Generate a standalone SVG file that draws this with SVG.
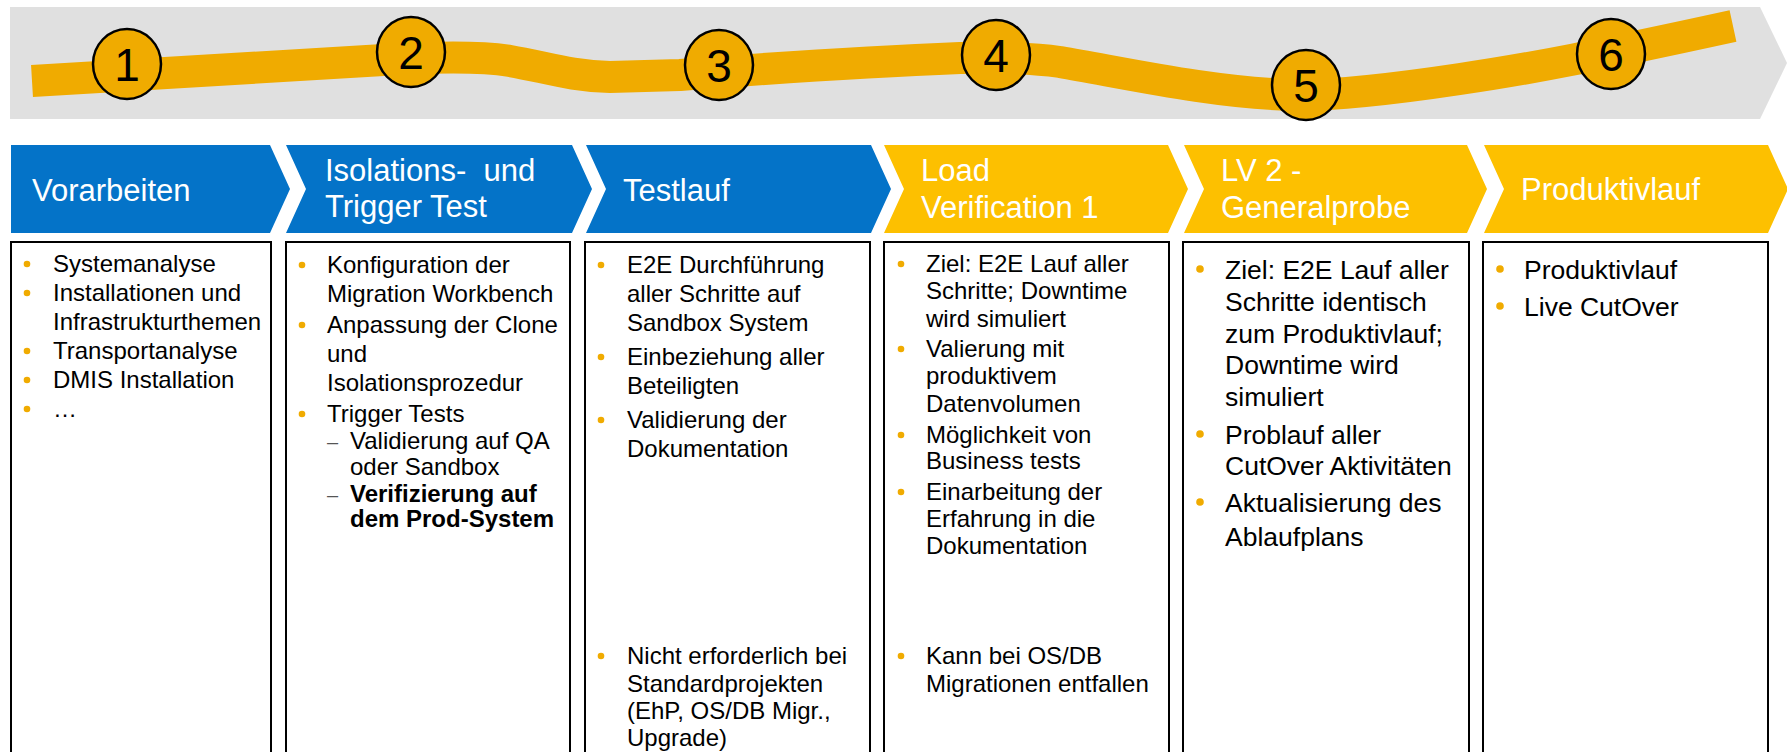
<svg xmlns="http://www.w3.org/2000/svg" width="1787" height="752" viewBox="0 0 1787 752">
<style>
text{font-family:"Liberation Sans",Arial,Helvetica,sans-serif}
.band{fill:#E0E0E0}
.road{fill:none;stroke:#F0AB00;stroke-width:32;stroke-linecap:butt;stroke-linejoin:round}
.ms ellipse{fill:#F0AB00;stroke:#000;stroke-width:2.5}
.ms text{font-size:46px;text-anchor:middle;fill:#000}
.blue{fill:#0473C8}
.yel{fill:#FDC000}
.ph text{fill:#fff;font-size:31px}
.box rect{fill:#fff;stroke:#000;stroke-width:2}
.t{font-size:24px;fill:#000}
.t2{font-size:26.5px;fill:#000}
.bl{fill:#F0AB00}
.dash{font-size:20px;fill:#555}
.bold{font-weight:bold}
</style>
<g id="timeline">
<polygon class="band" points="10,7 1760,7 1787,63 1760,119 10,119"/>
</g>
<g id="connectors">
<path class="road" d="M32,81 L400,59 C440,57 480,56 510,61 C545,67 570,76 610,77 L680,75 C760,69 860,62 960,58 C1000,57 1030,58 1060,62 C1130,74 1210,92 1290,95 C1330,96 1400,88 1460,79 C1530,69 1600,55 1733,26"/>
</g>
<g id="milestone-1" class="ms"><ellipse cx="127" cy="64" rx="34" ry="35"/><text x="127" y="81">1</text></g>
<g id="milestone-2" class="ms"><ellipse cx="411" cy="52" rx="34" ry="35"/><text x="411" y="69">2</text></g>
<g id="milestone-3" class="ms"><ellipse cx="719" cy="65" rx="34" ry="35"/><text x="719" y="82">3</text></g>
<g id="milestone-4" class="ms"><ellipse cx="996" cy="55" rx="34" ry="35"/><text x="996" y="72">4</text></g>
<g id="milestone-5" class="ms"><ellipse cx="1306" cy="85" rx="34" ry="35"/><text x="1306" y="102">5</text></g>
<g id="milestone-6" class="ms"><ellipse cx="1611" cy="54" rx="34" ry="35"/><text x="1611" y="71">6</text></g>

<g id="phase-1" class="ph"><polygon class="blue" points="11,145 270,145 290,189 270,233 11,233"/><text x="32" y="201">Vorarbeiten</text></g>
<g id="phase-2" class="ph"><polygon class="blue" points="286,145 572,145 592,189 572,233 286,233 306,189"/><text x="325" y="181" xml:space="preserve">Isolations-  und</text><text x="325" y="217">Trigger Test</text></g>
<g id="phase-3" class="ph"><polygon class="blue" points="586,145 871,145 891,189 871,233 586,233 606,189"/><text x="623" y="201">Testlauf</text></g>
<g id="phase-4" class="ph"><polygon class="yel" points="884,145 1168,145 1188,189 1168,233 884,233 904,189"/><text x="921" y="181">Load</text><text x="921" y="218">Verification 1</text></g>
<g id="phase-5" class="ph"><polygon class="yel" points="1184,145 1467,145 1487,189 1467,233 1184,233 1204,189"/><text x="1221" y="181">LV 2 -</text><text x="1221" y="218">Generalprobe</text></g>
<g id="phase-6" class="ph"><polygon class="yel" points="1484,145 1768,145 1788,189 1768,233 1484,233 1504,189"/><text x="1521" y="200">Produktivlauf</text></g>

<g id="box-1" class="box">
<rect x="11" y="242" width="260" height="520"/>
<circle class="bl" cx="27" cy="264" r="3.3"/>
<circle class="bl" cx="27" cy="293" r="3.3"/>
<circle class="bl" cx="27" cy="351" r="3.3"/>
<circle class="bl" cx="27" cy="380" r="3.3"/>
<circle class="bl" cx="27" cy="409" r="3.3"/>
<text class="t" x="53" y="272">Systemanalyse</text>
<text class="t" x="53" y="301">Installationen und</text>
<text class="t" x="53" y="330">Infrastrukturthemen</text>
<text class="t" x="53" y="359">Transportanalyse</text>
<text class="t" x="53" y="388">DMIS Installation</text>
<text class="t" x="53" y="417">…</text>
</g>

<g id="box-2" class="box">
<rect x="286" y="242" width="284" height="520"/>
<circle class="bl" cx="302" cy="265" r="3.3"/>
<circle class="bl" cx="302" cy="325" r="3.3"/>
<circle class="bl" cx="302" cy="414" r="3.3"/>
<text class="t" x="327" y="273">Konfiguration der</text>
<text class="t" x="327" y="302">Migration Workbench</text>
<text class="t" x="327" y="333">Anpassung der Clone</text>
<text class="t" x="327" y="362">und</text>
<text class="t" x="327" y="391">Isolationsprozedur</text>
<text class="t" x="327" y="422">Trigger Tests</text>
<text class="dash" x="327" y="449">–</text>
<text class="t" x="350" y="449">Validierung auf QA</text>
<text class="t" x="350" y="475">oder Sandbox</text>
<text class="dash" x="327" y="502">–</text>
<text class="t bold" x="350" y="502">Verifizierung auf</text>
<text class="t bold" x="350" y="527">dem Prod-System</text>
</g>

<g id="box-3" class="box">
<rect x="585" y="242" width="285" height="520"/>
<circle class="bl" cx="601" cy="265" r="3.3"/>
<circle class="bl" cx="601" cy="357" r="3.3"/>
<circle class="bl" cx="601" cy="420" r="3.3"/>
<circle class="bl" cx="601" cy="656" r="3.3"/>
<text class="t" x="627" y="273">E2E Durchführung</text>
<text class="t" x="627" y="302">aller Schritte auf</text>
<text class="t" x="627" y="331">Sandbox System</text>
<text class="t" x="627" y="365">Einbeziehung aller</text>
<text class="t" x="627" y="394">Beteiligten</text>
<text class="t" x="627" y="428">Validierung der</text>
<text class="t" x="627" y="457">Dokumentation</text>
<text class="t" x="627" y="664">Nicht erforderlich bei</text>
<text class="t" x="627" y="692">Standardprojekten</text>
<text class="t" x="627" y="719">(EhP, OS/DB Migr.,</text>
<text class="t" x="627" y="746">Upgrade)</text>
</g>

<g id="box-4" class="box">
<rect x="884" y="242" width="285" height="520"/>
<circle class="bl" cx="901" cy="264" r="3.3"/>
<circle class="bl" cx="901" cy="349" r="3.3"/>
<circle class="bl" cx="901" cy="435" r="3.3"/>
<circle class="bl" cx="901" cy="492" r="3.3"/>
<circle class="bl" cx="901" cy="656" r="3.3"/>
<text class="t" x="926" y="272">Ziel: E2E Lauf aller</text>
<text class="t" x="926" y="299">Schritte; Downtime</text>
<text class="t" x="926" y="327">wird simuliert</text>
<text class="t" x="926" y="357">Valierung mit</text>
<text class="t" x="926" y="384">produktivem</text>
<text class="t" x="926" y="412">Datenvolumen</text>
<text class="t" x="926" y="443">Möglichkeit von</text>
<text class="t" x="926" y="469">Business tests</text>
<text class="t" x="926" y="500">Einarbeitung der</text>
<text class="t" x="926" y="527">Erfahrung in die</text>
<text class="t" x="926" y="554">Dokumentation</text>
<text class="t" x="926" y="664">Kann bei OS/DB</text>
<text class="t" x="926" y="692">Migrationen entfallen</text>
</g>

<g id="box-5" class="box">
<rect x="1183" y="242" width="286" height="520"/>
<circle class="bl" cx="1200" cy="269" r="3.8"/>
<circle class="bl" cx="1200" cy="434" r="3.8"/>
<circle class="bl" cx="1200" cy="502" r="3.8"/>
<text class="t2" x="1225" y="279">Ziel: E2E Lauf aller</text>
<text class="t2" x="1225" y="311">Schritte identisch</text>
<text class="t2" x="1225" y="343">zum Produktivlauf;</text>
<text class="t2" x="1225" y="374">Downtime wird</text>
<text class="t2" x="1225" y="406">simuliert</text>
<text class="t2" x="1225" y="444">Problauf aller</text>
<text class="t2" x="1225" y="475">CutOver Aktivitäten</text>
<text class="t2" x="1225" y="512">Aktualisierung des</text>
<text class="t2" x="1225" y="546">Ablaufplans</text>
</g>

<g id="box-6" class="box">
<rect x="1483" y="242" width="285" height="520"/>
<circle class="bl" cx="1500" cy="269" r="3.8"/>
<circle class="bl" cx="1500" cy="306" r="3.8"/>
<text class="t2" x="1524" y="279">Produktivlauf</text>
<text class="t2" x="1524" y="316">Live CutOver</text>
</g>
</svg>
